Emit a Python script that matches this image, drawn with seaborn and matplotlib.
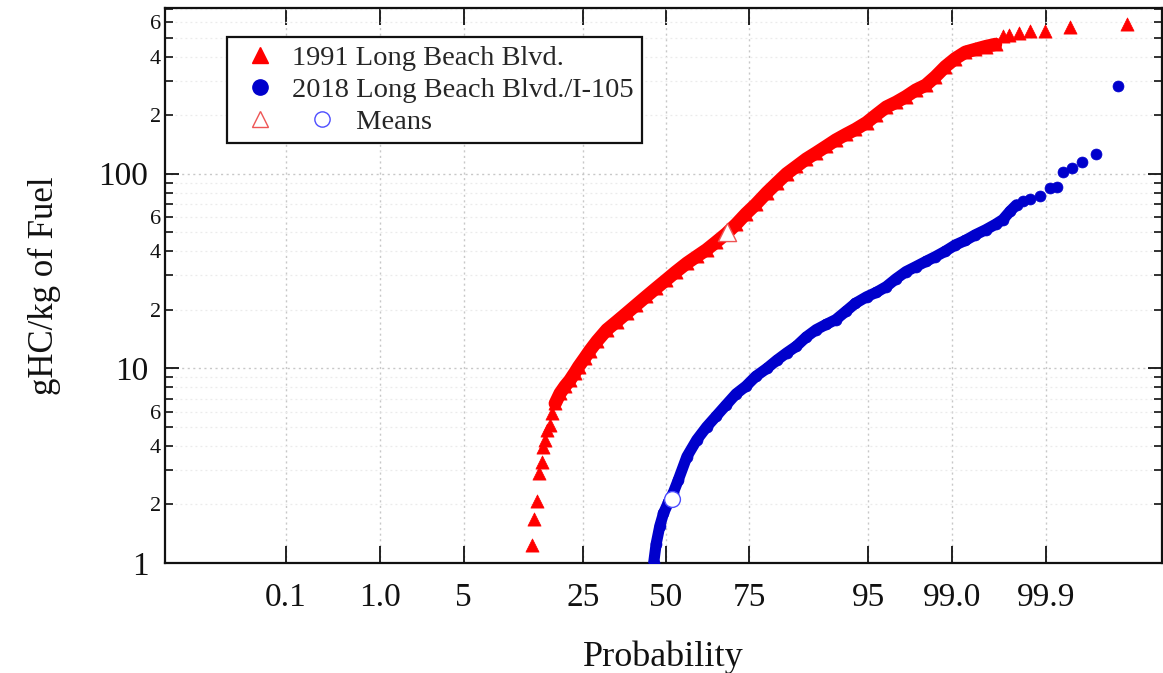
import numpy as np
import pandas as pd
import matplotlib
matplotlib.use("Agg")
import matplotlib.pyplot as plt
import seaborn as sns
from matplotlib.lines import Line2D
from matplotlib.legend_handler import HandlerBase
from matplotlib.ticker import FixedLocator, LogLocator, FuncFormatter

# ---------------- data (probability in %, value in gHC/kg of fuel) ----------------
red_tail_low_pct = [13.79, 14.25, 14.69, 15.20, 15.64, 15.96, 16.31, 16.65, 17.36, 17.67]
red_tail_low_val = [1.24, 1.68, 2.09, 2.89, 3.32, 3.96, 4.29, 4.83, 5.12, 5.88]

red_band_pct = [18.41, 19.49, 20.61, 21.77, 22.96, 23.89, 25.46, 26.76, 28.77, 31.56,
                34.46, 37.45, 40.52, 43.64, 46.81, 50.00, 53.19, 56.75, 59.87, 62.93,
                65.91, 68.79, 71.57, 74.22, 76.73, 79.39, 81.59, 83.65, 85.54, 87.29,
                88.88, 90.32, 91.62, 92.79, 93.82, 94.84, 95.64, 96.33, 96.93, 97.44,
                97.88, 98.26, 98.57, 98.84, 99.06, 99.25, 99.40, 99.53, 99.63]
red_band_val = [6.6, 7.45, 8.1, 8.7, 9.5, 10.2, 11.3, 12.3, 13.8, 15.8,
                17.4, 19.2, 21.2, 23.4, 25.8, 28.4, 31.3, 34.7, 37.6, 40.7,
                44.7, 49.2, 55.0, 62.3, 69.6, 80.0, 89.5, 100.0, 109.0, 119.0,
                128.0, 138.0, 149.0, 159.0, 169.0, 183.0, 201.0, 220.0, 233.0, 249.0,
                269.0, 285.0, 315.0, 355.0, 390.0, 421.0, 435.0, 450.0, 462.0]

red_tail_high_pct = [99.693, 99.736, 99.795, 99.846, 99.897, 99.948, 99.991]
red_tail_high_val = [510.0, 514.0, 530.0, 540.0, 540.0, 565.0, 591.0]

blue_band_pct = [46.02, 46.81, 48.01, 49.20, 50.80, 52.39, 53.98, 56.75, 59.87, 62.93,
                 65.91, 68.79, 71.57, 74.22, 76.73, 79.39, 81.59, 83.65, 85.54, 87.29,
                 88.88, 90.32, 91.62, 92.79, 93.82, 94.84, 95.64, 96.33, 96.93, 97.44,
                 97.88, 98.26, 98.57, 98.84, 99.06, 99.25, 99.40, 99.53, 99.63, 99.69,
                 99.74, 99.78]
blue_band_val = [1.0, 1.25, 1.55, 1.8, 2.05, 2.3, 2.67, 3.52, 4.29, 5.0,
                 5.7, 6.5, 7.4, 8.1, 9.1, 10.0, 11.0, 12.0, 13.0, 14.5,
                 15.8, 16.8, 17.8, 19.6, 21.6, 23.3, 24.6, 26.3, 28.9, 31.4,
                 33.3, 35.4, 37.5, 40.0, 43.0, 45.4, 48.5, 51.5, 55.0, 58.1,
                 64.0, 69.2]

blue_tail_high_pct = [99.813, 99.846, 99.882, 99.910, 99.926, 99.938, 99.952, 99.964, 99.976, 99.988]
blue_tail_high_val = [72.0, 74.0, 76.5, 84.3, 85.3, 101.8, 107.0, 115.0, 126.0, 283.0]

mean_pct = [68.9, 52.0]
mean_val = [50.4, 2.13]

prob_ticks = [0.1, 1.0, 5, 25, 50, 75, 95, 99.0, 99.9]
prob_labels = ["0.1", "1.0", "5", "25", "50", "75", "95", "99.0", "99.9"]

label_1991 = "1991 Long Beach Blvd."
label_2018 = "2018 Long Beach Blvd./I-105"
label_means = "Means"


# ---------------- normal probability transform ----------------
def norm_ppf(p):
    p = np.atleast_1d(np.asarray(p, dtype=float))
    a = [-3.969683028665376e+01, 2.209460984245205e+02, -2.759285104469687e+02,
         1.383577518672690e+02, -3.066479806614716e+01, 2.506628277459239e+00]
    b = [-5.447609879822406e+01, 1.615858368580409e+02, -1.556989798598866e+02,
         6.680131188771972e+01, -1.328068155288572e+01]
    c = [-7.784894002430293e-03, -3.223964580411365e-01, -2.400758277161838e+00,
         -2.549732539343734e+00, 4.374664141464968e+00, 2.938163982698783e+00]
    d = [7.784695709041462e-03, 3.224671290700398e-01, 2.445134137142996e+00,
         3.754408661907416e+00]
    plow = 0.02425
    x = np.empty_like(p)
    lo = p < plow
    hi = p > 1 - plow
    mid = ~(lo | hi)
    q = np.sqrt(-2 * np.log(p[lo]))
    x[lo] = (((((c[0]*q+c[1])*q+c[2])*q+c[3])*q+c[4])*q+c[5]) / ((((d[0]*q+d[1])*q+d[2])*q+d[3])*q+1)
    q = p[mid] - 0.5
    r = q * q
    x[mid] = (((((a[0]*r+a[1])*r+a[2])*r+a[3])*r+a[4])*r+a[5])*q / (((((b[0]*r+b[1])*r+b[2])*r+b[3])*r+b[4])*r+1)
    q = np.sqrt(-2 * np.log(1 - p[hi]))
    x[hi] = -(((((c[0]*q+c[1])*q+c[2])*q+c[3])*q+c[4])*q+c[5]) / ((((d[0]*q+d[1])*q+d[2])*q+d[3])*q+1)
    return x


def frame(pct, val):
    return pd.DataFrame({"z": norm_ppf(np.asarray(pct) / 100.0), "v": val})


red_low = frame(red_tail_low_pct, red_tail_low_val)
red_band = frame(red_band_pct, red_band_val)
red_high = frame(red_tail_high_pct, red_tail_high_val)
blue_band = frame(blue_band_pct, blue_band_val)
blue_high = frame(blue_tail_high_pct, blue_tail_high_val)
means = frame(mean_pct, mean_val)

# ---------------- style ----------------
sns.set_theme(style="white")
plt.rcParams["font.family"] = ["Liberation Serif", "DejaVu Serif"]

RED = "#ff0000"
BLUE = "#0000cc"
RED_LIGHT = "#ee5555"
BLUE_LIGHT = "#4d4dff"
INK = "#111111"

fig = plt.figure(figsize=(11.63, 6.73), dpi=100)
ax = fig.add_axes([165 / 1163, 1 - 563 / 673, (1162 - 165) / 1163, (563 - 8) / 673])

# red series
sns.lineplot(data=red_band, x="z", y="v", ax=ax, color=RED, lw=9.5, estimator=None,
             solid_capstyle="round", legend=False, zorder=3)
sns.scatterplot(data=pd.concat([red_low, red_band, red_high]), x="z", y="v", ax=ax,
                marker="^", s=90, color=RED, edgecolor=RED, linewidth=0.5, legend=False, zorder=4)
# blue series
sns.lineplot(data=blue_band, x="z", y="v", ax=ax, color=BLUE, lw=8, estimator=None,
             solid_capstyle="round", legend=False, zorder=3)
sns.scatterplot(data=pd.concat([blue_band, blue_high]), x="z", y="v", ax=ax,
                marker="o", s=62, color=BLUE, edgecolor=BLUE, linewidth=0.5, legend=False, zorder=4)
# means
sns.scatterplot(data=means.iloc[[0]], x="z", y="v", ax=ax, marker="^", s=170,
                facecolor="white", edgecolor=RED_LIGHT, linewidth=1.0, legend=False, zorder=6)
sns.scatterplot(data=means.iloc[[1]], x="z", y="v", ax=ax, marker="o", s=130,
                facecolor="white", edgecolor=BLUE_LIGHT, linewidth=1.0, legend=False, zorder=6)

# ---------------- axes ----------------
ax.set_yscale("log")
ax.set_ylim(1, 710)
ax.set_xlim(-4.07, 4.03)

ax.xaxis.set_major_locator(FixedLocator(norm_ppf(np.asarray(prob_ticks) / 100.0)))
ax.set_xticklabels(prob_labels)
ax.xaxis.set_minor_locator(FixedLocator([]))

ax.yaxis.set_major_locator(LogLocator(base=10, numticks=10))
ax.yaxis.set_minor_locator(LogLocator(base=10, subs=np.arange(2, 10), numticks=20))
ax.yaxis.set_major_formatter(FuncFormatter(lambda v, p: f"{v:g}"))


def minor_fmt(v, p):
    m = int(round(v / 10 ** np.floor(np.log10(v) + 1e-9)))
    return str(m) if m in (2, 4, 6) else ""


ax.yaxis.set_minor_formatter(FuncFormatter(minor_fmt))

ax.tick_params(axis="x", which="major", direction="in", length=12, width=1.3,
               labelsize=24, pad=14, top=True, bottom=True, colors=INK)
ax.tick_params(axis="y", which="major", direction="in", length=10, width=1.3,
               labelsize=24, pad=12, left=True, right=True, colors=INK)
ax.tick_params(axis="y", which="minor", direction="in", length=6, width=1.2,
               labelsize=16, pad=3, left=True, right=True, colors=INK)

ax.grid(True, which="major", axis="both", color="#c8c8c8", linestyle=(0, (1.5, 2.5)), lw=1.0)
ax.grid(True, which="minor", axis="y", color="#ebebeb", linestyle=(0, (1.5, 2.5)), lw=0.9)
ax.set_axisbelow(True)
for sp in ax.spines.values():
    sp.set_visible(True)
    sp.set_color(INK)
    sp.set_linewidth(1.6)

ax.set_xlabel("Probability", fontsize=26, labelpad=20, color=INK)
ax.set_ylabel("gHC/kg of Fuel", fontsize=25, labelpad=27, color=INK)


# ---------------- legend ----------------
class MeansHandler(HandlerBase):
    def create_artists(self, legend, orig_handle, xdescent, ydescent, width, height, fontsize, trans):
        y = height / 2.0 - ydescent
        x0 = width / 2.0 - xdescent
        tri = Line2D([x0], [y], marker="^", ls="none", ms=12, mfc="white",
                     mec=RED_LIGHT, mew=1.0, transform=trans)
        circ = Line2D([x0 + 44.6], [y], marker="o", ls="none", ms=11, mfc="white",
                      mec=BLUE_LIGHT, mew=1.0, transform=trans)
        return [tri, circ]


h_red = Line2D([], [], marker="^", ls="none", ms=12, color=RED)
h_blue = Line2D([], [], marker="o", ls="none", ms=11, color=BLUE)
h_mean = object()
leg = ax.legend([h_red, h_blue, h_mean],
                [label_1991, label_2018, "         " + label_means],
                handler_map={h_mean: MeansHandler()},
                loc="upper left", bbox_to_anchor=(0.062, 0.948), borderaxespad=0,
                fontsize=20.5, frameon=True, fancybox=False, edgecolor=INK,
                framealpha=1, handlelength=1.7, handletextpad=0.28, labelspacing=0.2,
                borderpad=0.3)
leg.get_frame().set_linewidth(1.6)

fig.savefig("out.png", dpi=100)
